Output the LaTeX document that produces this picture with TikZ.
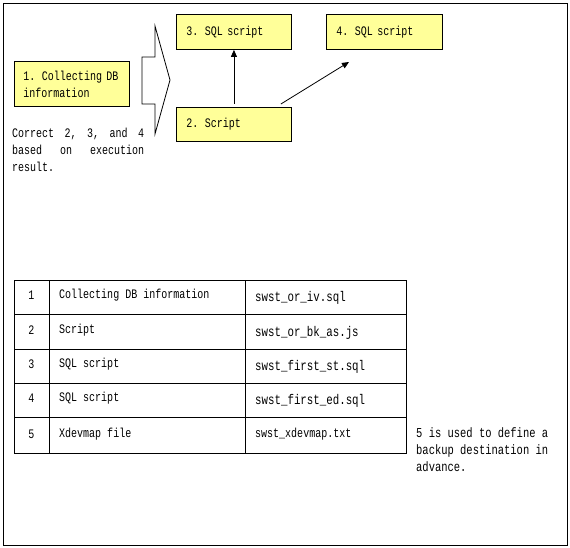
\documentclass[tikz,border=0pt]{standalone}
\usepackage{fontspec}
\setmainfont{Liberation Mono}[FakeStretch=0.77]
\usetikzlibrary{arrows.meta}
\definecolor{boxfill}{HTML}{FFFF99}
\tikzset{
  box/.style={draw=black, line width=0.9pt, fill=boxfill, anchor=north west, inner xsep=10pt, inner ysep=0pt, align=left, font=\fontsize{13}{17}\selectfont},
  arr/.style={line width=0.8pt, -{Triangle[length=7pt,width=6pt]}},
  txt/.style={inner sep=0pt, anchor=west, font=\fontsize{13}{17}\selectfont},
  ftxt/.style={inner sep=0pt, anchor=west, font=\fontsize{14}{17}\selectfont},
  line/.style={line width=0.8pt}
}
\begin{document}
\begin{tikzpicture}[x=1pt,y=-1pt]
\useasboundingbox (0,0) rectangle (570,548);
\draw[line] (3,3) rectangle (567,545);
% boxes
\node[box, minimum width=115, minimum height=45, text width=97, inner xsep=9pt] (b1) at (14,61) {1. Collecting DB\\information};
\node[box, minimum width=115, minimum height=35, text width=95] (b3) at (176,14) {3. SQL script};
\node[box, minimum width=116, minimum height=35, text width=96] (b4) at (326,14) {4. SQL script};
\node[box, minimum width=115, minimum height=34, text width=95] (b2) at (176,107) {2. Script};
% connectors
\draw[arr] ([yshift=3pt]b2.north) -- (b3.south);
\coordinate (e4) at (349,62);
\draw[arr] ([xshift=-11pt,yshift=3pt]b2.north east) -- (e4);
% big arrow
\draw[line] (155,26) -- (170,80) -- (155,134) -- (155,104) -- (142,104) -- (142,57) -- (155,57) -- cycle;
% note left
\node[txt, anchor=north west, text width=132, align=left] (n1) at (12,128) {Correct\hfill 2,\hfill 3,\hfill and\hfill 4\\based\hfill on\hfill execution\\result.};
% table
\draw[line] (14,280) rectangle (406,453);
\foreach \y in {314,349,383,417} \draw[line] (14,\y) -- (406,\y);
\foreach \x in {49,245} \draw[line] (\x,280) -- (\x,453);
\node[txt, anchor=center] (r1a) at (31.5,295) {1};
\node[txt, anchor=center] (r2a) at (31.5,330) {2};
\node[txt, anchor=center] (r3a) at (31.5,364) {3};
\node[txt, anchor=center] (r4a) at (31.5,398) {4};
\node[txt, anchor=center] (r5a) at (31.5,434) {5};
\node[txt] (r1b) at (59,295) {Collecting DB information};
\node[txt] (r2b) at (59,330) {Script};
\node[txt] (r3b) at (59,364) {SQL script};
\node[txt] (r4b) at (59,398) {SQL script};
\node[txt] (r5b) at (59,434) {Xdevmap file};
\node[ftxt] (r1c) at (255,298) {swst\_or\_iv.sql};
\node[ftxt] (r2c) at (255,333) {swst\_or\_bk\_as.js};
\node[ftxt] (r3c) at (255,367) {swst\_first\_st.sql};
\node[ftxt] (r4c) at (255,401) {swst\_first\_ed.sql};
\node[txt] (r5c) at (255,434) {swst\_xdevmap.txt};
% note right
\node[txt, anchor=north west, align=left, font=\fontsize{13.6}{17}\selectfont] (n2) at (416,427) {5 is used to define a\\backup destination in\\advance.};
\end{tikzpicture}
\end{document}
